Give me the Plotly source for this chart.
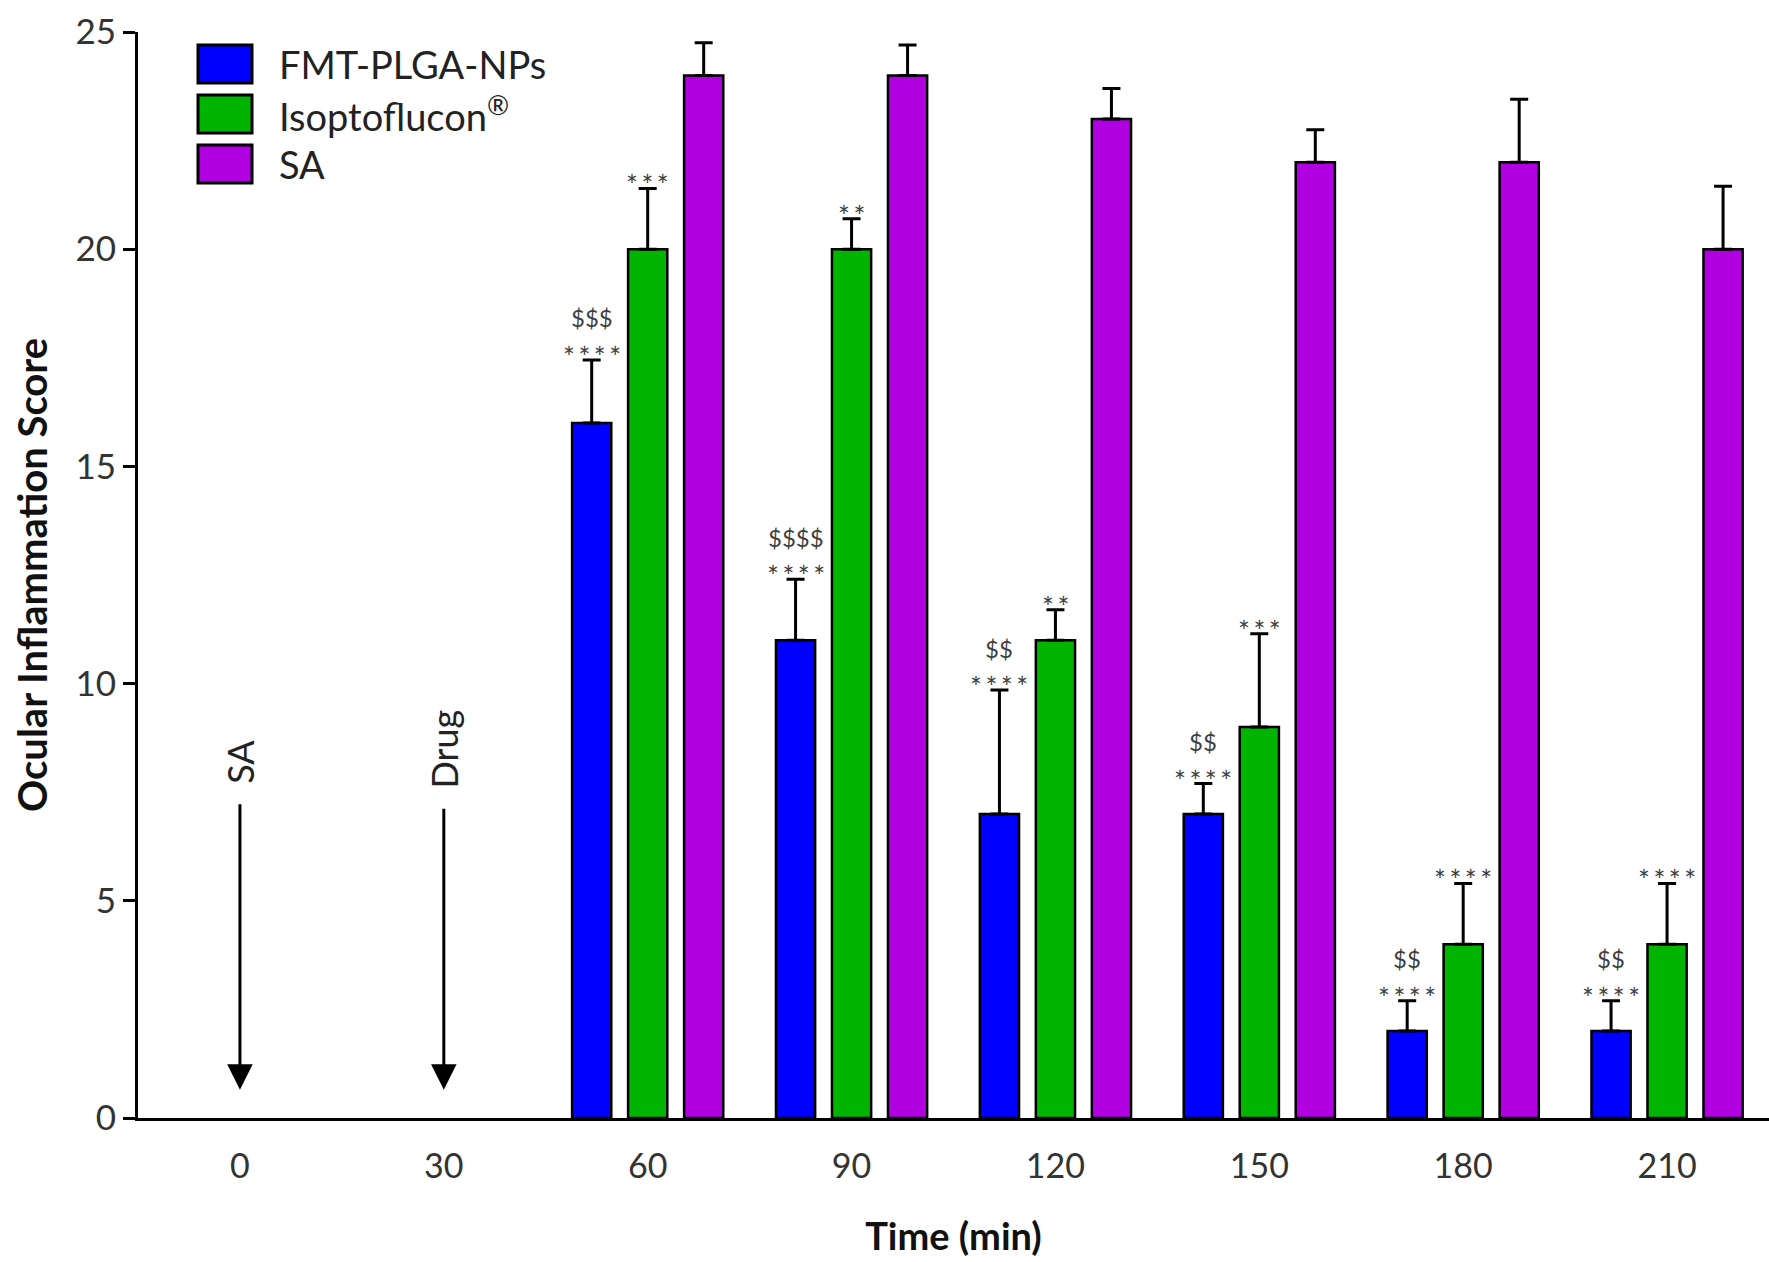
import plotly.graph_objects as go

# ---- data -----------------------------------------------------------------
time_labels = ["0", "30", "60", "90", "120", "150", "180", "210"]
series_names = ["FMT-PLGA-NPs", "Isoptoflucon<sup>®</sup>", "SA"]

fmt_mean = [None, None, 16, 11, 7, 7, 2, 2]
fmt_err = [None, None, 1.45, 1.4, 2.85, 0.7, 0.7, 0.7]
iso_mean = [None, None, 20, 20, 11, 9, 4, 4]
iso_err = [None, None, 1.4, 0.7, 0.7, 2.15, 1.4, 1.4]
sa_mean = [None, None, 24, 24, 23, 22, 22, 20]
sa_err = [None, None, 0.75, 0.7, 0.7, 0.75, 1.45, 1.45]

# significance marks drawn above the error bars
fmt_stars = ["", "", "****", "****", "****", "****", "****", "****"]
fmt_dollars = ["", "", "$$$", "$$$$", "$$", "$$", "$$", "$$"]
iso_stars = ["", "", "***", "**", "**", "***", "****", "****"]

# dosing events marked with labelled arrows
event_labels = ["SA", "Drug"]
event_times = ["0", "30"]
event_label_y = [8.2, 8.5]
arrow_tip = 0.65

# ---- styling --------------------------------------------------------------
colors = ["#0000FF", "#00B400", "#B000E2"]
FONT = "Lato"
W, H = 1769, 1262
ML, MR, MT, MB = 138, 0, 32, 144
BARGAP, GROUPGAP = 0.176, 0.30
MARK_COLOR = "#3f3f3f"

means = [fmt_mean, iso_mean, sa_mean]
errs = [fmt_err, iso_err, sa_err]

fig = go.Figure()
for name, m, e, c in zip(series_names, means, errs, colors):
    fig.add_trace(go.Bar(
        x=time_labels, y=m, name=name,
        marker=dict(color=c, line=dict(color="black", width=2.5)),
        error_y=dict(type="data", symmetric=False, array=e,
                     arrayminus=[0 if v is not None else None for v in e],
                     color="black", thickness=3, width=9),
        showlegend=False,
    ))

# ---- significance annotations --------------------------------------------
slot = (1 - BARGAP) / 3
n = len(time_labels)


def top_of(i, k):
    return means[k][i] + errs[k][i]


def spaced(s):
    # thin spaces between the asterisks
    return "\u2009".join(s)


for i in range(n):
    if fmt_stars[i]:
        x = i - slot
        fig.add_annotation(x=x, y=top_of(i, 0), text=spaced(fmt_stars[i]), showarrow=False,
                           yanchor="middle", yshift=3,
                           font=dict(family=FONT, size=28, color=MARK_COLOR))
        fig.add_annotation(x=x, y=top_of(i, 0), text=fmt_dollars[i], showarrow=False,
                           yanchor="middle", yshift=42,
                           font=dict(family=FONT, size=24, color=MARK_COLOR))
    if iso_stars[i]:
        fig.add_annotation(x=i, y=top_of(i, 1), text=spaced(iso_stars[i]), showarrow=False,
                           yanchor="middle", yshift=3,
                           font=dict(family=FONT, size=28, color=MARK_COLOR))

# ---- event arrows (label sits at the arrow tail) -------------------------
for lab, t, ly in zip(event_labels, event_times, event_label_y):
    xi = time_labels.index(t)
    fig.add_annotation(x=xi, y=arrow_tip, ax=xi, ay=ly,
                       xref="x", yref="y", axref="x", ayref="y",
                       text=lab, textangle=-90, borderpad=20,
                       showarrow=True, arrowhead=2, arrowsize=1.7,
                       arrowwidth=3, arrowcolor="black", standoff=0,
                       font=dict(family=FONT, size=36, color="#222222"))

# ---- legend (drawn as boxes + labels) ------------------------------------
pw, ph = W - ML - MR, H - MT - MB


def px_x(p):
    return (p - ML) / pw


def px_y(p):
    return (H - MB - p) / ph


sw_left, sw_w, sw_h = 198, 54, 38
row0, row_step = 45, 50
for k, (name, c) in enumerate(zip(series_names, colors)):
    top = row0 + k * row_step
    fig.add_shape(type="rect", xref="paper", yref="paper",
                  x0=px_x(sw_left), x1=px_x(sw_left + sw_w),
                  y0=px_y(top + sw_h), y1=px_y(top),
                  fillcolor=c, line=dict(color="black", width=3))
    fig.add_annotation(xref="paper", yref="paper", x=px_x(277),
                       y=px_y(top + sw_h / 2), text=name, showarrow=False,
                       xanchor="left", yanchor="middle",
                       font=dict(family=FONT, size=38, color="#222222"))

# ---- layout ---------------------------------------------------------------
fig.update_layout(
    width=W, height=H,
    margin=dict(l=ML, r=MR, t=MT, b=MB),
    paper_bgcolor="white", plot_bgcolor="white",
    barmode="group", bargap=BARGAP, bargroupgap=GROUPGAP,
    font=dict(family=FONT, color="#222222"),
)
fig.update_xaxes(
    type="category", range=[-0.5, n - 0.5],
    showline=True, linecolor="black", linewidth=3,
    ticks="", showgrid=False, zeroline=False,
    tickfont=dict(family=FONT, size=34, color="#333333"),
    ticklabelstandoff=16,
    title=dict(text="<b>Time (min)</b>", standoff=40,
               font=dict(family=FONT, size=38, color="#111111")),
)
fig.update_yaxes(
    range=[0, 25], tickvals=[0, 5, 10, 15, 20, 25],
    showline=True, linecolor="black", linewidth=3,
    ticks="outside", ticklen=12, tickwidth=3, tickcolor="black",
    showgrid=False, zeroline=False,
    tickfont=dict(family=FONT, size=35, color="#333333"),
    title=dict(text="<b>Ocular Inflammation Score</b>", standoff=16,
               font=dict(family=FONT, size=40, color="#111111")),
)

fig.write_html("out.html")
